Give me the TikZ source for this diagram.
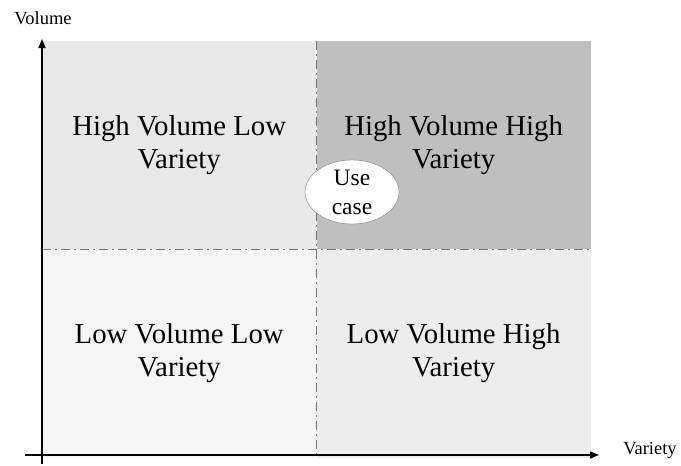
\documentclass[tikz,border=0pt]{standalone}
\usepackage{fontspec}
\setmainfont{Liberation Serif}
\usepackage{xcolor}
\usetikzlibrary{arrows.meta, shapes.geometric}

\tikzset{
    quad/.style={draw=none, minimum width=274pt, minimum height=208pt, inner sep=0pt, align=center,
        font=\fontsize{28.8}{33}\selectfont},
    divider/.style={draw=black!55, line width=1pt, dash pattern=on 9pt off 4pt on 2pt off 4pt},
    axis/.style={draw=black, line width=1.6pt, -{Triangle[length=9pt,width=7pt]}},
    axislabel/.style={font=\fontsize{18.5}{20}\selectfont, inner sep=0pt},
}

\begin{document}
\begin{tikzpicture}[x=1pt, y=-1pt]
        \useasboundingbox (0,0) rectangle (681,466);

        % quadrants
        \node[quad, fill=black!9, anchor=north west] (hvlv) at (42,41) {High Volume Low\\Variety};
        \node[quad, fill=black!25, anchor=north west] (hvhv) at (hvlv.north east) {High Volume High\\Variety};
        \node[quad, fill=black!4, anchor=north west] (lvlv) at (hvlv.south west) {Low Volume Low\\Variety};
        \node[quad, fill=black!7, anchor=north west] (lvhv) at (hvlv.south east) {Low Volume High\\Variety};

        \draw[divider] (hvlv.north east) -- (lvlv.south east);
        \draw[divider] (hvlv.south west) -- (hvhv.south east);

        % use case
        \node[draw=black!50, fill=white, ellipse, minimum width=94pt, minimum height=64pt, inner sep=0pt,
            align=center, font=\fontsize{23.5}{29}\selectfont] (usecase) at (352,192) {Use\\case};

        % axes
        \coordinate (ybot) at (42,464);
        \coordinate (ytop) at (42,39);
        \coordinate (xleft) at (25,455);
        \coordinate (xright) at (599,455);
        \draw[axis] (ybot) -- (ytop);
        \draw[axis] (xleft) -- (xright);
        \node[axislabel] (vol) at (43,18) {Volume};
        \node[axislabel] (var) at (650,450) {Variety};
    \end{tikzpicture}
\end{document}
